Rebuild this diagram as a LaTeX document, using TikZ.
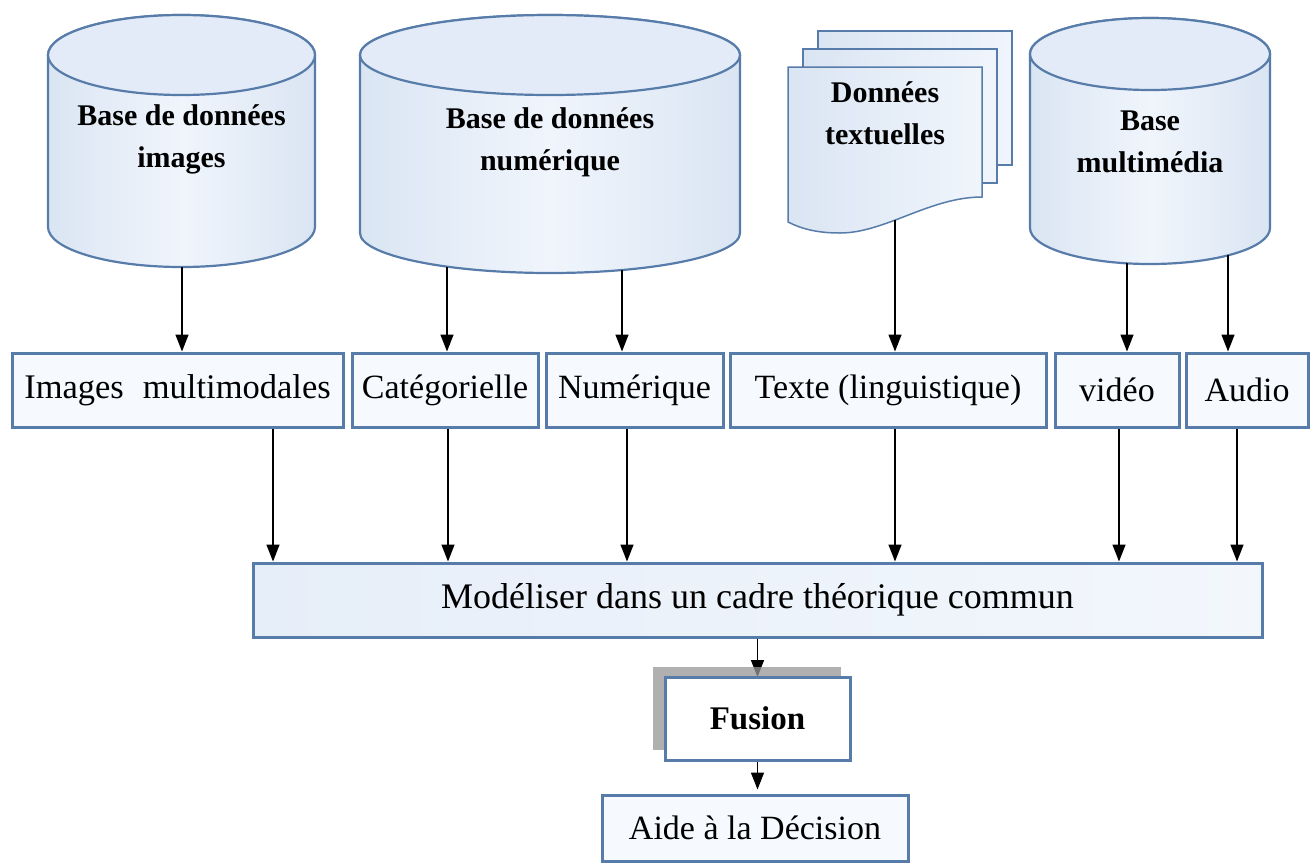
\documentclass[tikz,border=0pt]{standalone}
\usepackage{fontspec}
\setmainfont{Liberation Serif}
\usetikzlibrary{arrows.meta}
\definecolor{bordc}{RGB}{88,124,170}
\definecolor{cylside}{RGB}{218,229,243}
\definecolor{cylmid}{RGB}{240,245,252}
\definecolor{cyltop}{RGB}{226,235,247}
\definecolor{boxfill}{RGB}{246,250,254}
\definecolor{modleft}{RGB}{230,238,249}
\definecolor{modright}{RGB}{243,247,252}
\definecolor{shadowc}{RGB}{150,150,150}
\begin{document}
\begin{tikzpicture}[x=1pt,y=-1pt,
  cylbody/.style={draw=bordc,line width=2.2pt,left color=cylside,right color=cylside,middle color=cylmid},
  cyltopst/.style={draw=bordc,line width=2.2pt,fill=cyltop},
  pagest/.style={draw=bordc,line width=1.5pt,left color=cylside,right color=cylmid},
  btxt/.style={font=\bfseries\fontsize{30}{42}\selectfont,align=center,inner sep=0pt},
  rowbox/.style={draw=bordc,line width=3pt,fill=boxfill,inner sep=0pt,minimum height=74pt,font=\fontsize{34}{40}\selectfont},
  arr/.style={draw=black,line width=1.5pt,-{Triangle[width=13pt,length=17pt]}}
]
\useasboundingbox (0,0) rectangle (1314,863);
\fill[white] (0,0) rectangle (1314,863);

% ---- cylinder 1
\path[cylbody] (48,55) -- (48,227) arc[start angle=180,end angle=0,x radius=133.5,y radius=40]
  -- (315,55) arc[start angle=0,end angle=-180,x radius=133.5,y radius=40] -- cycle;
\path[cyltopst] (181.5,55) ellipse[x radius=133.5,y radius=40];
\node[btxt] (c1t) at (181.5,139) {Base de données\\images};
\coordinate (c1s) at (182,267);

% ---- cylinder 2
\path[cylbody] (360,55) -- (360,233) arc[start angle=180,end angle=0,x radius=190,y radius=40]
  -- (740,55) arc[start angle=0,end angle=-180,x radius=190,y radius=40] -- cycle;
\path[cyltopst] (550,55) ellipse[x radius=190,y radius=40];
\node[btxt] (c2t) at (550,142) {Base de données\\numérique};
\coordinate (c2s) at (447,266.6);
\coordinate (c2r) at (622,270);

% ---- document stack
\path[pagest] (818,31) rectangle (1012,165);
\path[pagest] (803,49) rectangle (997,183);
\path[pagest] (788,67) -- (982,67) -- (982,197)
  .. controls (930,197) and (885,233) .. (840,233)
  .. controls (815,233) and (800,228) .. (788,222) -- cycle;
\node[btxt] (dt) at (885,113.5) {Données\\textuelles};
\coordinate (ds) at (895,220);

% ---- cylinder 4
\path[cylbody] (1030,54) -- (1030,228) arc[start angle=180,end angle=0,x radius=120,y radius=36]
  -- (1270,54) arc[start angle=0,end angle=-180,x radius=120,y radius=36] -- cycle;
\path[cyltopst] (1150,54) ellipse[x radius=120,y radius=36];
\node[btxt] (c4t) at (1150,141.5) {Base\\multimédia};
\coordinate (c4s) at (1127,263.3);
\coordinate (c4r) at (1228,255.4);

% ---- row of boxes
\node[rowbox,minimum width=331pt,font=\fontsize{34.5}{40}\selectfont] (img) at (177.5,390) {Images\hspace{19pt}multimodales};
\node[rowbox,minimum width=186pt] (cat) at (445,390) {Catégorielle};
\node[rowbox,minimum width=177pt] (num) at (634.5,390) {Numérique};
\node[rowbox,minimum width=316pt] (txt) at (888,390) {Texte (linguistique)};
\node[rowbox,minimum width=124pt] (vid) at (1117,390) {vidéo};
\node[rowbox,minimum width=122pt] (aud) at (1247,390) {Audio};

% ---- common model box
\node[draw=bordc,line width=3pt,left color=modleft,right color=modright,inner sep=0pt,
      minimum width=1009pt,minimum height=74pt,font=\fontsize{36}{40}\selectfont]
      (mod) at (757.5,600) {Modéliser dans un cadre théorique commun};

% ---- arrows top
\draw[arr] (c1s) -- (c1s |- img.north);
\draw[arr] (c2s) -- (c2s |- cat.north);
\draw[arr] (c2r) -- (c2r |- num.north);
\draw[arr] (ds) -- (ds |- txt.north);
\draw[arr] (c4s) -- (c4s |- vid.north);
\draw[arr] (c4r) -- (c4r |- aud.north);

% ---- arrows to model box
\coordinate (x1) at (273,0);
\coordinate (x2) at (448,0);
\coordinate (x3) at (627,0);
\coordinate (x4) at (895,0);
\coordinate (x5) at (1119,0);
\coordinate (x6) at (1237,0);
\draw[arr] (img.south -| x1) -- (x1 |- mod.north);
\draw[arr] (cat.south -| x2) -- (x2 |- mod.north);
\draw[arr] (num.south -| x3) -- (x3 |- mod.north);
\draw[arr] (txt.south -| x4) -- (x4 |- mod.north);
\draw[arr] (vid.south -| x5) -- (x5 |- mod.north);
\draw[arr] (aud.south -| x6) -- (x6 |- mod.north);

% ---- fusion
\coordinate (fusc) at (757.5,718.5);
\draw[arr] (mod.south) -- (757.5,677);
\fill[shadowc,opacity=0.75] (653,667) rectangle (841,750);
\node[draw=bordc,line width=3pt,fill=white,inner sep=0pt,minimum width=185pt,minimum height=83pt,
      font=\bfseries\fontsize{33}{40}\selectfont] (fus) at (fusc) {Fusion};

% ---- decision
\node[draw=bordc,line width=3pt,fill=boxfill,inner sep=0pt,minimum width=306pt,minimum height=66pt,
      font=\fontsize{34}{40}\selectfont] (aide) at (755,828) {Aide à la Décision};
\draw[arr,shorten >=4pt] (fus.south) -- (fus.south |- aide.north);
\end{tikzpicture}
\end{document}
